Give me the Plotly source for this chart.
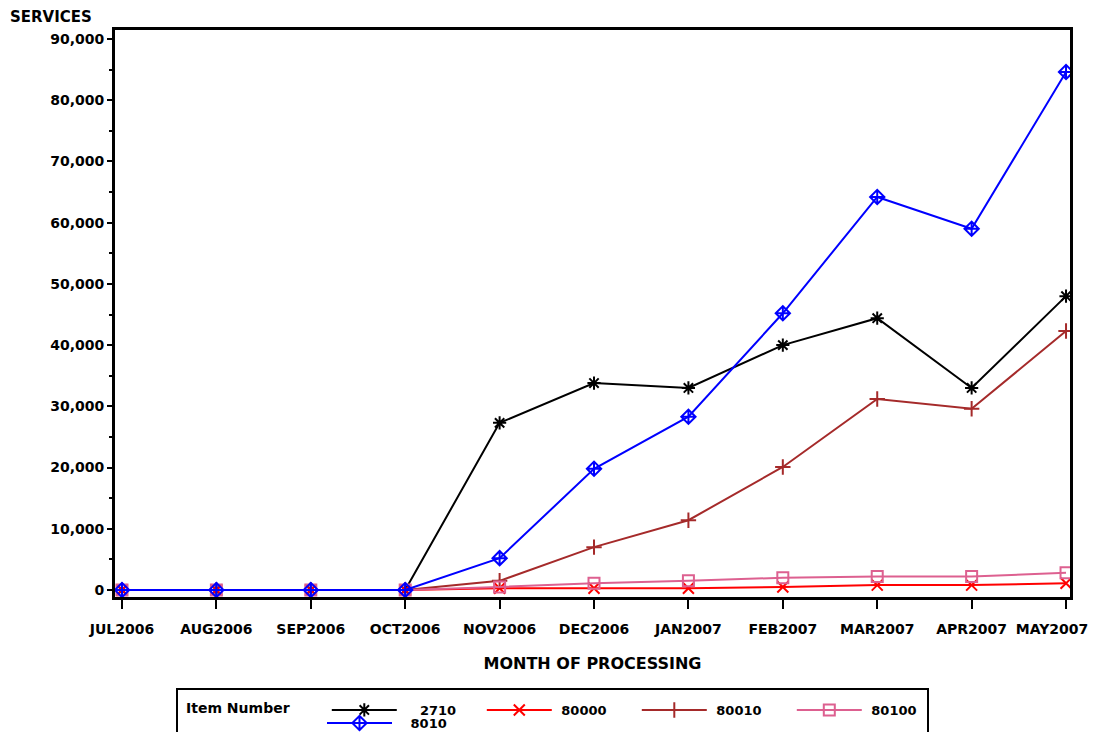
import plotly.graph_objects as go

months = ["JUL2006", "AUG2006", "SEP2006", "OCT2006", "NOV2006", "DEC2006",
          "JAN2007", "FEB2007", "MAR2007", "APR2007", "MAY2007"]

s2710 = [0, 0, 0, 0, 27300, 33800, 33000, 40000, 44400, 33000, 48000]
s80000 = [0, 0, 0, 0, 300, 300, 300, 500, 800, 800, 1100]
s80010 = [0, 0, 0, 0, 1500, 7000, 11400, 20100, 31200, 29600, 42300]
s80100 = [0, 0, 0, 0, 500, 1100, 1500, 2000, 2200, 2200, 2800]
s8010 = [0, 0, 0, 0, 5200, 19800, 28300, 45200, 64200, 59000, 84600]

ytickvals = [0, 10000, 20000, 30000, 40000, 50000, 60000, 70000, 80000, 90000]
yticktext = ["0", "10,000", "20,000", "30,000", "40,000", "50,000",
             "60,000", "70,000", "80,000", "90,000"]
yminor = [5000, 15000, 25000, 35000, 45000, 55000, 65000, 75000, 85000]

# name, values, colour, marker, legend, label padding (nbsp), x axis
series = [
    ("2710", s2710, "black", "asterisk-open", "legend", 4, "x"),
    ("80000", s80000, "#ff0000", "x-thin-open", "legend", 1, "x"),
    ("80010", s80010, "#a52a2a", "cross-thin-open", "legend", 1, "x"),
    ("80100", s80100, "#dd6090", "square-open", "legend", 1, "x"),
    ("8010", s8010, "#0000ff", "diamond-cross-open", "legend2", 3, "x2"),
]

FONT = "DejaVu Sans"
W, H = 1086, 724   # page body has an 8px margin

fig = go.Figure()
xs = list(range(len(months)))
for name, vals, color, sym, lg, pad, xa in series:
    fig.add_trace(go.Scatter(
        x=xs, y=vals, name="&nbsp;" * pad + name, mode="lines+markers",
        legend=lg, legendwidth=75,
        xaxis=xa, yaxis="y",
        line=dict(color=color, width=2),
        marker=dict(symbol=sym, size=11, color=color, line=dict(color=color, width=2)),
    ))

# plot area in screenshot px: x 115..1070, y 30..597
L, R, T, B = 115 - 8, 1070 - 8, 30 - 8, 597 - 8
def px(x):
    return (x - 115) / (1070 - 115)
def py(y):
    return (597 - y) / (597 - 30)

legend_common = dict(
    orientation="h", xref="container", yref="container",
    xanchor="left", yanchor="top", borderwidth=0, bgcolor="rgba(0,0,0,0)",
    font=dict(family=FONT, size=13, weight="bold"),
    itemwidth=65, entrywidthmode="pixels", traceorder="normal",
)

tickfont = dict(family=FONT, size=14, weight="bold")
xrange_ = [-0.074, 10.042]

fig.update_layout(
    width=W, height=H,
    margin=dict(l=L, r=W - R, t=T, b=H - B, autoexpand=False),
    paper_bgcolor="white", plot_bgcolor="white",
    font=dict(family=FONT, size=13, color="black", weight="bold"),
    showlegend=True,
    legend=dict(
        legend_common,
        x=(184 - 8) / W, y=1 - (695 - 8) / H,
        title=dict(text="Item Number" + "&nbsp;" * 6,
                   font=dict(family=FONT, size=14, weight="bold")),
    ),
    legend2=dict(
        legend_common,
        x=(322 - 8) / W, y=1 - (708 - 8) / H,
    ),
    xaxis=dict(
        range=xrange_, automargin=False,
        tickmode="array", tickvals=xs, ticktext=months[:-1] + [""],
        ticks="outside", ticklen=9, tickwidth=2, tickcolor="black",
        ticklabelstandoff=8,
        showline=True, linewidth=3, linecolor="black", mirror=True,
        showgrid=False, zeroline=False,
        tickfont=tickfont,
        title=dict(text="MONTH OF PROCESSING", standoff=23,
                   font=dict(family=FONT, size=16, weight="bold")),
    ),
    xaxis2=dict(
        overlaying="x", anchor="y", side="bottom",
        range=xrange_, automargin=False,
        tickmode="array", tickvals=xs[-1:], ticktext=months[-1:],
        ticks="outside", ticklen=9, tickwidth=2, tickcolor="black",
        ticklabelstandoff=8, ticklabelshift=-14,
        showline=True, linewidth=3, linecolor="black",
        showgrid=False, zeroline=False,
        tickfont=tickfont,
    ),
    yaxis=dict(
        range=[-1143, 91470], automargin=False,
        tickmode="array", tickvals=ytickvals, ticktext=yticktext,
        ticks="outside", ticklen=5, tickwidth=2, tickcolor="black",
        minor=dict(tickvals=yminor, ticks="outside", ticklen=3, tickwidth=2, tickcolor="black"),
        showline=True, linewidth=3, linecolor="black", mirror=True,
        showgrid=False, zeroline=False,
        tickfont=tickfont,
    ),
    annotations=[dict(
        text="SERVICES", xref="paper", yref="paper", x=px(8), y=1.0,
        xanchor="left", yanchor="bottom", yshift=2, showarrow=False,
        font=dict(family=FONT, size=15, weight="bold"),
    )],
    shapes=[dict(
        type="rect", xref="paper", yref="paper",
        x0=px(177), x1=px(928), y0=py(689), y1=py(760),
        line=dict(color="black", width=2), fillcolor="rgba(0,0,0,0)",
    )],
)

fig.write_html("out.html")
